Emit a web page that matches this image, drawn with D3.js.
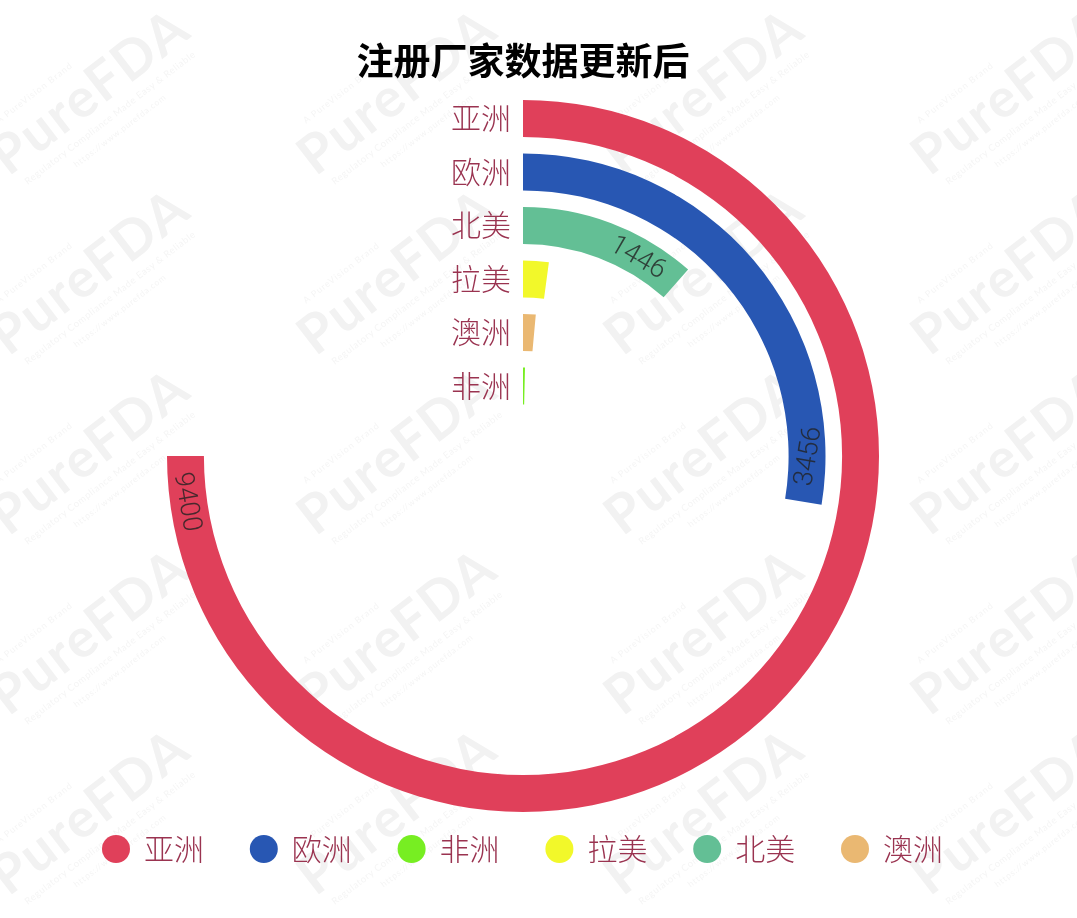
<!DOCTYPE html>
<html>
<head>
<meta charset="utf-8">
<script src="https://cdn.jsdelivr.net/npm/d3@7"></script>
<style>
html, body { margin: 0; padding: 0; background: #fff; }
svg { display: block; }
</style>
</head>
<body>
<script>
// data
let title = '注册厂家数据更新后';
let regions = ['亚洲', '欧洲', '北美', '拉美', '澳洲', '非洲'];
let counts = [9400, 3456, 1446, 265, 180, 45];
let colors = ['#e0405a', '#2857b3', '#63bf95', '#f2f82a', '#eab872', '#77ee22'];
let legendOrder = ['亚洲', '欧洲', '非洲', '拉美', '北美', '澳洲'];
let labelled = ['亚洲', '欧洲', '北美'];
let wmLines = ['A PureVision Brand', 'Regulatory Compliance Made Easy & Reliable', 'https://www.purefda.com'];

let W = 1077, H = 918;
let cx = 523, cy = 456;
let font = '"Noto Sans CJK SC", "Noto Sans", sans-serif';
let txtCol = '#9a3350';

let svg = d3.select('body').append('svg').attr('width', W).attr('height', H);
svg.append('rect').attr('width', W).attr('height', H).attr('fill', '#fff');

// watermark tiles
let defs = svg.append('defs');
defs.append('filter').attr('id', 'soft').append('feGaussianBlur').attr('stdDeviation', 0.7);
let wm = svg.append('g').attr('filter', 'url(#soft)');
for (let r = 0; r < 5; r++) {
    for (let c = 0; c < 4; c++) {
        let t = wm.append('g').attr('transform', `translate(${95 + c * 307},${98 + r * 180}) rotate(-37.5)`);
        t.append('text').attr('x', 0).attr('y', 10).attr('text-anchor', 'middle')
            .attr('font-family', 'Lato, sans-serif').attr('font-weight', 700).attr('font-size', 54)
            .attr('letter-spacing', 2).attr('fill', '#f2f2f2').text('PureFDA');
        t.append('text').attr('x', -45).attr('y', -38).attr('text-anchor', 'middle')
            .attr('font-family', 'Lato, sans-serif').attr('font-size', 9).attr('letter-spacing', 1)
            .attr('fill', '#f5f5f5').text(wmLines[0]);
        t.append('text').attr('x', 0).attr('y', 28).attr('text-anchor', 'middle')
            .attr('font-family', 'Lato, sans-serif').attr('font-size', 9.5).attr('letter-spacing', 0.6)
            .attr('fill', '#f5f5f5').text(wmLines[1]);
        t.append('text').attr('x', 0).attr('y', 44).attr('text-anchor', 'middle')
            .attr('font-family', 'Lato, sans-serif').attr('font-size', 8.5).attr('letter-spacing', 0.8)
            .attr('fill', '#f5f5f5').text(wmLines[2]);
    }
}

// scales
let colorOf = d3.scaleOrdinal().domain(regions).range(colors);
let yBand = d3.scaleBand().domain(regions).range([91.7, 412.7]).paddingInner(0.31).paddingOuter(0.155);
let angle = d3.scaleLinear().domain([0, 12533]).range([0, 2 * Math.PI]);
let arc = d3.arc();

let rows = regions.map((name, i) => ({ name: name, value: counts[i] }));

svg.selectAll('path.bar').data(rows).enter().append('path')
    .attr('class', 'bar')
    .attr('transform', `translate(${cx},${cy})`)
    .attr('fill', d => colorOf(d.name))
    .attr('d', d => arc({
        innerRadius: cy - yBand(d.name) - yBand.bandwidth(),
        outerRadius: cy - yBand(d.name),
        startAngle: 0,
        endAngle: angle(d.value)
    }));

// value labels, set back from the end of the bar and turned along it
svg.selectAll('text.val').data(rows.filter(d => labelled.includes(d.name))).enter().append('text')
    .attr('class', 'val')
    .attr('text-anchor', 'middle')
    .attr('dominant-baseline', 'central')
    .attr('font-family', 'Roboto, sans-serif')
    .attr('font-weight', 300)
    .attr('font-size', 27)
    .attr('fill', '#222')
    .attr('fill-opacity', 0.8)
    .attr('transform', d => {
        let r = cy - yBand(d.name) - yBand.bandwidth() / 2;
        let a = angle(d.value) - 46 / r;
        let x = cx + r * Math.sin(a), y = cy - r * Math.cos(a);
        let deg = a * 180 / Math.PI;
        // the 3456 label follows the bar end rather than its own spot
        if (deg > 80 && deg < 180) deg = angle(d.value) * 180 / Math.PI - 180;
        else if (deg >= 180) deg -= 182;
        return `translate(${x},${y}) rotate(${deg})`;
    })
    .text(d => d.value);

// category axis
let axis = svg.append('g').attr('transform', `translate(${cx},1)`)
    .call(d3.axisLeft(yBand).tickSize(0).tickPadding(12));
axis.select('.domain').remove();
axis.selectAll('text')
    .attr('font-family', font)
    .attr('font-weight', 300)
    .attr('font-size', 30)
    .attr('fill', txtCol);

// title
svg.append('text').attr('x', cx).attr('y', 75).attr('text-anchor', 'middle')
    .attr('font-family', font).attr('font-weight', 700).attr('font-size', 37)
    .attr('fill', '#000').text(title);

// legend
let legendX = d3.scalePoint().domain(legendOrder).range([116, 855]);
let leg = svg.selectAll('g.leg').data(legendOrder).enter().append('g')
    .attr('class', 'leg')
    .attr('transform', d => `translate(${legendX(d)},849)`);
leg.append('circle').attr('r', 14).attr('fill', d => colorOf(d));
leg.append('text').attr('x', 28).attr('y', 0).attr('dy', '0.35em')
    .attr('font-family', font).attr('font-weight', 300).attr('font-size', 30).attr('fill', txtCol).text(d => d);
</script>
</body>
</html>
